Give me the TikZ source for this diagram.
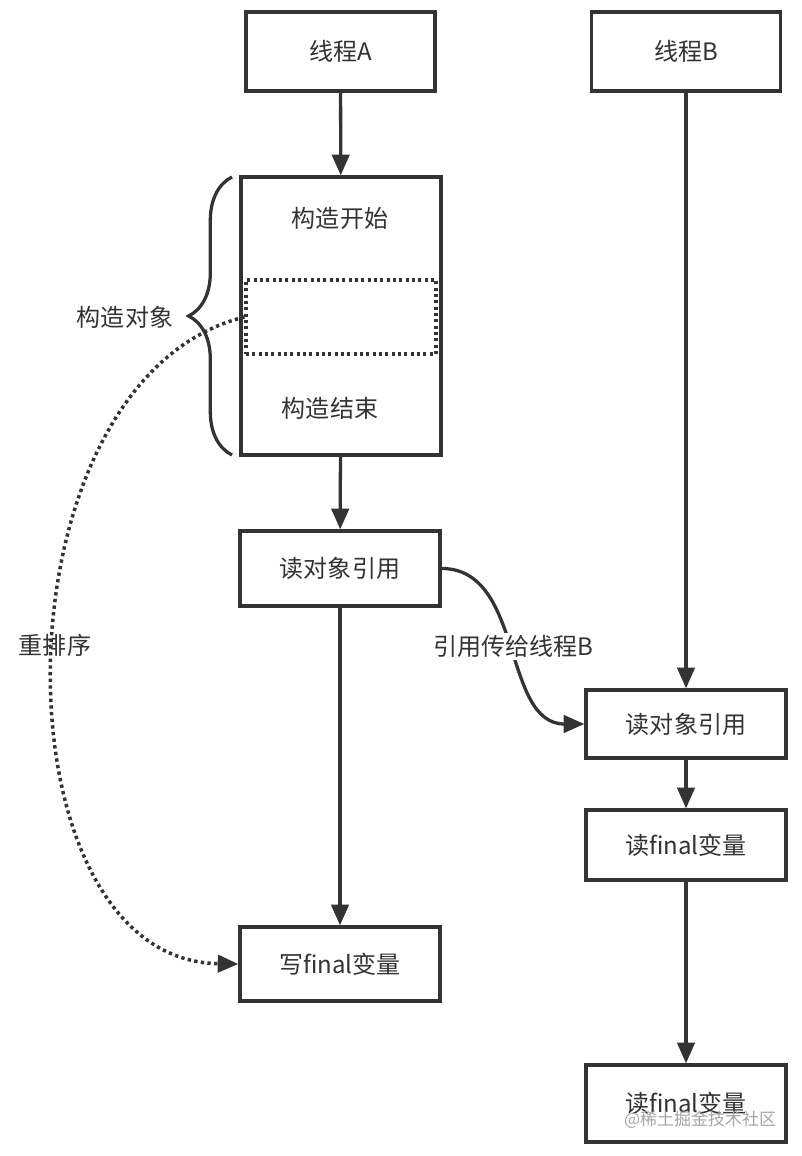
\documentclass[tikz,border=0pt]{standalone}
\usepackage{fontspec}
\setmainfont{Noto Sans CJK SC}
\usepackage{xcolor}
\usetikzlibrary{arrows.meta, positioning, decorations.pathreplacing}
\definecolor{lineDark}{HTML}{333333}
\definecolor{textDark}{HTML}{333333}

\begin{document}
\begin{tikzpicture}[
  x=0.03cm, y=-0.03cm,
  every node/.style={font=\fontsize{20.5}{24}\selectfont, text=textDark},
  block/.style={draw=lineDark, rectangle, minimum width=6cm, line width=2.8pt, fill=white, align=center},
  flow/.style={-{Triangle[length=0.62cm, width=0.52cm]}, line width=2.8pt, draw=lineDark},
  reorder/.style={-{Triangle[length=0.62cm, width=0.52cm]}, line width=3pt, draw=lineDark, dash pattern=on 0.1cm off 0.1cm},
  lbl/.style={fill=white, inner sep=2pt}
]
\useasboundingbox (0,0) rectangle (801,1156);
\node[block, minimum width=5.67cm, minimum height=2.37cm] (thA) at (340.5,51.5) {线程A};
\node[block, minimum width=5.67cm, minimum height=2.37cm] (thB) at (686,51.5) {线程B};
\node[block, minimum height=8.34cm] (ctor) at (341,316) {};
\node (ctorS) at (340,218) {构造开始};
\node (ctorE) at (330,408) {构造结束};
\node[draw=lineDark, line width=2.6pt, dash pattern=on 0.09cm off 0.1cm, minimum width=5.7cm, minimum height=2.22cm] (gap) at (341,317) {};
\node[block, minimum height=2.25cm] (readA) at (340,568.5) {读对象引用};
\node[block, minimum height=2.22cm] (writeA) at (340,964) {写final变量};
\node[block, minimum height=2.04cm] (readB) at (686,724) {读对象引用};
\node[block, minimum height=2.1cm] (finB1) at (686,845) {读final变量};
\node[block, minimum height=2.31cm] (finB2) at (686,1103.5) {读final变量};
\node[font=\fontsize{14.5}{17}\selectfont, text=black!35] (mark) at (700,1120) {@稀土掘金技术社区};
\draw[decorate, decoration={brace, amplitude=1.3cm}, line width=2.8pt, draw=lineDark] (232,455) -- (232,177) coordinate[midway] (braceMid);
\node (objLbl) at (125,317) {构造对象};
\node (reLbl) at (55,645) {重排序};
\draw[flow] (thA) -- (ctor);
\draw[flow] (ctor) -- (readA);
\draw[flow] (readA) -- (writeA);
\draw[flow] (thB) -- (readB);
\draw[flow] (readB) -- (finB1);
\draw[flow] (finB1) -- (finB2);
\draw[flow] (readA.east) to[out=0, in=180] node[lbl] (passLbl) {引用传给线程B} (readB.west);
\draw[reorder] (gap.west) .. controls (-10,380) and (-10,960) .. (writeA.west);
\end{tikzpicture}
\end{document}
